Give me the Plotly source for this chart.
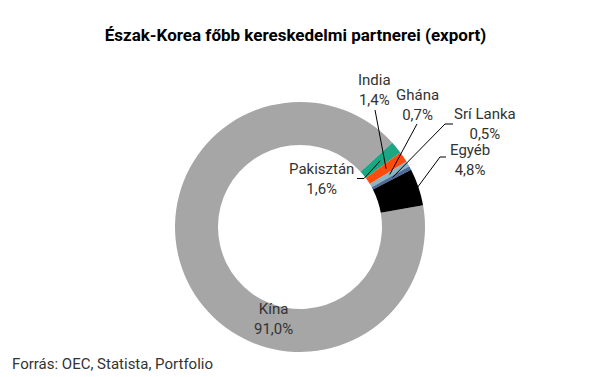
import math
import plotly.graph_objects as go

# ---- data ----
categories = ["Kína", "Pakisztán", "India", "Ghána", "Srí Lanka", "Egyéb"]
values = [91.0, 1.6, 1.4, 0.7, 0.5, 4.8]
value_labels = ["91,0%", "1,6%", "1,4%", "0,7%", "0,5%", "4,8%"]
colors = ["#A6A6A6", "#1BA784", "#FF4B0B", "#8DB4C2", "#4D6C9B", "#000000"]

W, H = 606, 377
OFF = 8  # page body margin offset
CX, CY, R_OUT, HOLE = 300, 227, 125, 0.656
ROTATION = 80


def px(x, y):
    """page pixel -> paper coords (accounting for the page body margin)"""
    return (x - OFF) / W, 1 - (y - OFF) / H


fig = go.Figure()
x0, y0 = px(CX - R_OUT, CY + R_OUT)
x1, y1 = px(CX + R_OUT, CY - R_OUT)
fig.add_trace(go.Pie(
    labels=categories, values=values, sort=False, direction="clockwise",
    rotation=ROTATION, hole=HOLE, textinfo="none", hoverinfo="label+percent",
    marker=dict(colors=colors, line=dict(width=0)),
    domain=dict(x=[x0, x1], y=[y0, y1]),
    showlegend=False,
))

# slice mid angles (clockwise from 12 o'clock)
total = sum(values)
mids = []
acc = ROTATION
for v in values:
    span = v / total * 360
    mids.append(acc + span / 2)
    acc += span


def slice_point(i, r):
    a = math.radians(mids[i])
    return CX + r * math.sin(a), CY - r * math.cos(a)


# label positions (pixels) and leader-line elbows
label_pos = {
    "Kína": (273, 319),
    "Pakisztán": (321, 179),
    "India": (375, 90),
    "Ghána": (417, 104.5),
    "Srí Lanka": (485, 124),
    "Egyéb": (470, 160),
}
leaders = {
    "Pakisztán": ([(357, 178.5), (364, 178.5)], 104),
    "India": ([(375, 110)], 104),
    "Ghána": ([(417, 124)], 104),
    "Srí Lanka": ([(453, 124), (445, 124)], 105),
    "Egyéb": ([(446, 157), (440, 157)], 124),
}

font = dict(family="Roboto, Arial, sans-serif", size=15, color="#333333")
for i, c in enumerate(categories):
    x, y = px(*label_pos[c])
    fig.add_annotation(x=x, y=y, xref="paper", yref="paper", showarrow=False,
                       text=f"{c}<br>{value_labels[i]}", font=font,
                       xanchor="center", yanchor="middle", align="center")
    if c in leaders:
        pts, r = leaders[c]
        pts = pts + [slice_point(i, r)]
        path = "M " + " L ".join(f"{px(a, b)[0]},{px(a, b)[1]}" for a, b in pts)
        fig.add_shape(type="path", path=path, xref="paper", yref="paper",
                      line=dict(color="#000000", width=1))

sx, sy = px(10, 364)
fig.add_annotation(x=sx, y=sy, xref="paper", yref="paper",
                   showarrow=False, text="Forrás: OEC, Statista, Portfolio",
                   font=font, xanchor="left", yanchor="middle")

tx, ty = px(295.5, 35)
fig.update_layout(
    width=W, height=H, margin=dict(l=0, r=0, t=0, b=0),
    paper_bgcolor="white", plot_bgcolor="white",
    title=dict(text="<b>Észak-Korea főbb kereskedelmi partnerei (export)</b>",
               x=tx, xanchor="center", y=ty, yanchor="middle",
               font=dict(family="Roboto, Arial, sans-serif", size=17, color="#000000")),
)

fig.write_html("out.html")
